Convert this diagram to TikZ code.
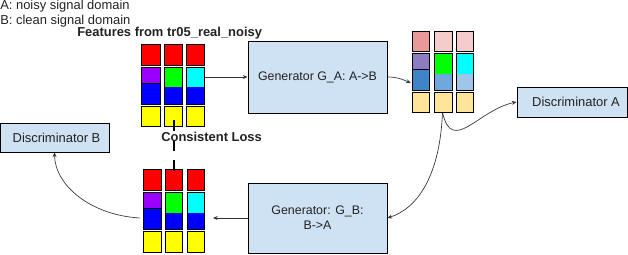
\documentclass[tikz,border=0pt]{standalone}
\usepackage{fontspec}
\setmainfont{Liberation Sans}
\usetikzlibrary{arrows.meta,calc}
\definecolor{boxfill}{HTML}{CFE2F3}
\definecolor{cred}{HTML}{FF0000}
\definecolor{cpurple}{HTML}{9900FF}
\definecolor{cgreen}{HTML}{00FF00}
\definecolor{ccyan}{HTML}{00FFFF}
\definecolor{cblue}{HTML}{0000FF}
\definecolor{cyellow}{HTML}{FFFF00}
\definecolor{rredA}{HTML}{EA9999}
\definecolor{rredB}{HTML}{F4CCCC}
\definecolor{rpurple}{HTML}{8E7CC3}
\definecolor{rblueA}{HTML}{3D85C6}
\definecolor{rblueB}{HTML}{6FA8DC}
\definecolor{rblueC}{HTML}{9FC5E8}
\definecolor{ryellow}{HTML}{FFE599}
\definecolor{txt}{HTML}{222222}
\definecolor{conn}{HTML}{333333}
\newcommand\fcell[5]{\filldraw[cellst,fill=#5] (#1,#2) rectangle (#3,#4);}
\newcommand\scell[7]{\fill[#6] (#1,#2) rectangle (#3,#5);\fill[#7] (#1,#5) rectangle (#3,#4);\draw[cellst] (#1,#2) rectangle (#3,#4);}
\begin{document}
\begin{tikzpicture}[x=0.75pt,y=-0.75pt,
  every node/.style={font=\fontsize{9.7}{11.25}\selectfont, text=txt},
  cellst/.style={draw=black, line width=0.6pt},
  gbox/.style={draw=black, line width=0.75pt, fill=boxfill, inner sep=0pt, align=center},
  blk/.style={inner sep=0pt, draw=none},
  lbl/.style={anchor=base west, inner sep=0pt},
  bold/.style={font=\fontsize{9.7}{11}\selectfont\bfseries},
  arr/.style={draw=conn, line width=0.5pt, -{Stealth[length=3.5pt,width=3pt]}},
  closs/.style={draw=black, line width=2pt, dash pattern=on 8.25pt off 6.75pt}]
\useasboundingbox (0,0) rectangle (628,254);

% texts
\node[lbl] (la) at (0,9) {A: noisy signal domain};
\node[lbl] (lb) at (0,24) {B: clean signal domain};
\node[lbl, bold] (feat) at (77,36.5) {Features from tr05\_real\_noisy};

% boxes
\node[gbox, font=\fontsize{9.3}{11.25}\selectfont, minimum width=104.25pt, minimum height=54pt] (ga) at (317.5,77) {Generator G\_A: A->B};
\node[gbox, font=\fontsize{9.3}{11.25}\selectfont, minimum width=104.25pt, minimum height=52.5pt] (gb) at (317.5,218) {Generator: G\_B:\\B->A};
\node[gbox, minimum width=82.5pt, minimum height=22.5pt] (da) at (572,102) {\hspace*{6pt}Discriminator A};
\node[gbox, minimum width=81.75pt, minimum height=21.75pt] (db) at (54.5,137.5) {\hspace*{3pt}Discriminator B};

% block anchors
\node[blk, minimum width=47.25pt, minimum height=61.5pt] (topblk) at (172.5,85) {};
\node[blk, minimum width=45.75pt, minimum height=60.75pt] (recblk) at (442.5,71.5) {};
\node[blk, minimum width=45.75pt, minimum height=62.25pt] (botblk) at (173.5,210.5) {};
\coordinate (gbtip) at (213,218);
\coordinate (cla) at (174,120);
\coordinate (clb) at (174,173);

% connectors
\draw[arr] (topblk.east |- ga.west) -- (ga.west);
\draw[arr] (ga.east) .. controls (398,77) and (404,80) .. ($(recblk.west)+(-1,11.5)$);
\draw[arr] (recblk.south) .. controls (452,155) and (478,110) .. (da.west);
\draw[arr] (recblk.south) .. controls (440,175) and (418,208) .. (gb.east);
\draw[arr] (gb.west) -- (gbtip);
\draw[arr] ($(botblk.west)+(-3,7.5)$) .. controls (90,215) and (55,185) .. (db.south);

% top-left block
\fcell{141}{44}{160}{65}{cred}
\fcell{141}{67}{160}{83}{cpurple}
\fcell{141}{83}{160}{104}{cblue}
\fcell{141}{106}{160}{126}{cyellow}
\fcell{164}{44}{182}{65}{cred}
\scell{164}{67}{182}{104}{87}{cgreen}{cblue}
\fcell{164}{106}{182}{126}{cyellow}
\fcell{186}{44}{204}{65}{cred}
\scell{186}{67}{204}{104}{87}{ccyan}{cblue}
\fcell{186}{106}{204}{126}{cyellow}

% reconstructed block
\fcell{412}{31}{429}{51.5}{rredA}
\fcell{412}{53}{429}{69}{rpurple}
\fcell{412}{69}{429}{90.5}{rblueA}
\fcell{412}{92}{429}{112}{ryellow}
\fcell{434}{31}{452}{51.5}{rredB}
\scell{434}{53}{452}{90.5}{74}{cgreen}{rblueB}
\fcell{434}{92}{452}{112}{ryellow}
\fcell{456}{31}{473}{51.5}{rredB}
\scell{456}{53}{473}{90.5}{74}{ccyan}{rblueC}
\fcell{456}{92}{473}{112}{ryellow}

% bottom block
\fcell{143}{169}{161}{190}{cred}
\fcell{143}{192}{161}{208}{cpurple}
\fcell{143}{208}{161}{229}{cblue}
\fcell{143}{231}{161}{252}{cyellow}
\fcell{165}{169}{182}{190}{cred}
\scell{165}{192}{182}{229}{213}{cgreen}{cblue}
\fcell{165}{231}{182}{252}{cyellow}
\fcell{187}{169}{204}{190}{cred}
\scell{187}{192}{204}{229}{213}{ccyan}{cblue}
\fcell{187}{231}{204}{252}{cyellow}

% consistent loss
\draw[closs] (cla) -- (clb);
\node[lbl, bold] (cl) at (161,141) {Consistent Loss};
\end{tikzpicture}
\end{document}
